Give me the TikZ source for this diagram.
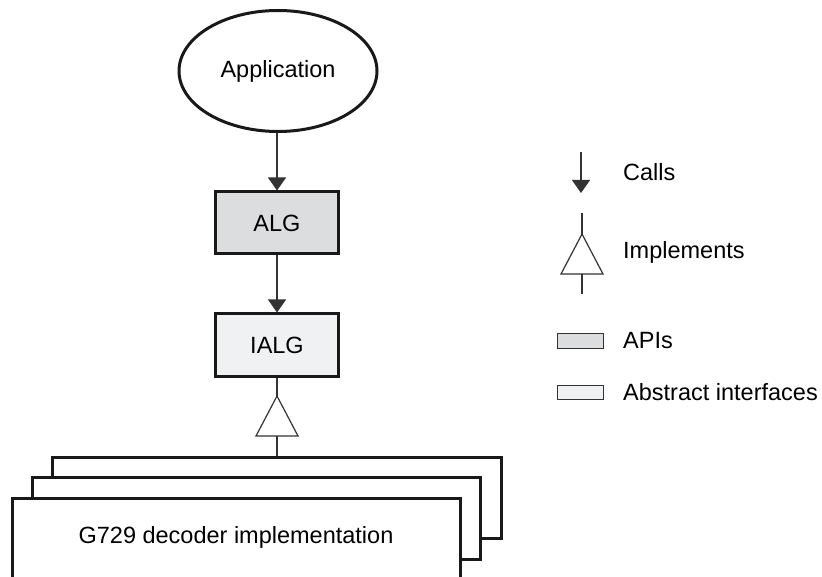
\documentclass[tikz,border=0pt]{standalone}
\usepackage{fontspec}
\setmainfont{Liberation Sans}
\usetikzlibrary{arrows.meta,shapes.geometric,positioning}

\definecolor{apigray}{RGB}{220,221,223}
\definecolor{ifacegray}{RGB}{240,241,243}

\tikzset{
  thickline/.style={line width=3pt, draw=black!90},
  thinline/.style={line width=1.2pt, draw=black!80},
  callarrow/.style={thinline, -{Triangle[width=18pt,length=13pt]}},
  modbox/.style={thickline, minimum width=123pt, minimum height=62pt, inner sep=0pt},
  legtext/.style={anchor=west, inner sep=0pt},
  legbox/.style={draw=black!80, line width=1pt, minimum width=46pt, minimum height=14pt, inner sep=0pt}
}

\begin{document}
\begin{tikzpicture}[x=1pt, y=-1pt, font=\fontsize{23.5}{28}\selectfont]
  \useasboundingbox (0,0) rectangle (822,577);
  \clip (0,0) rectangle (822,577);

  % main chain
  \node (app) [ellipse, thickline, minimum width=198pt, minimum height=121pt, inner sep=0pt] at (278,71) {Application};
  \node (alg) [modbox, fill=apigray] at (277,223) {ALG};
  \node (ialg) [modbox, fill=ifacegray] at (277,345) {IALG};
  \draw [callarrow] (app.south -| alg.north) -- (alg.north);
  \draw [callarrow] (alg.south) -- (ialg.north);

  % implements triangle
  \coordinate (tri apex) at (277,396);
  \coordinate (tri left) at (256,436);
  \coordinate (tri right) at (298,436);
  \coordinate (tri base) at (277,436);
  \coordinate (stack top) at (277,457);
  \draw [thinline] (ialg.south) -- (tri apex);
  \draw [thinline, fill=white] (tri apex) -- (tri left) -- (tri right) -- cycle;
  \draw [thinline] (tri base) -- (stack top);

  % stacked implementations
  \draw [thickline] (52,477) |- (501,457) |- (480,538);
  \draw [thickline] (32,498) |- (480,477) |- (460,559);
  \draw [thickline, fill=white] (12,600) |- (460,498) -- (460,600);
  \node (impl) at (236,537) {G729 decoder implementation};

  % legend
  \coordinate (calls top) at (581,152);
  \coordinate (calls tip) at (581,193);
  \draw [callarrow] (calls top) -- (calls tip);
  \node (calls) [legtext] at (623,172) {Calls};

  \coordinate (leg apex) at (582,234);
  \coordinate (leg left) at (561,274);
  \coordinate (leg right) at (603,274);
  \draw [thinline] (582,213) -- (leg apex);
  \draw [thinline, fill=white] (leg apex) -- (leg left) -- (leg right) -- cycle;
  \draw [thinline] (582,274) -- (582,294);
  \node (impls) [legtext] at (623,252) {Implements};

  \node (apibox) [legbox, fill=apigray] at (580,341) {};
  \node (apis) [legtext] at (623,341) {APIs};
  \node (ifacebox) [legbox, fill=ifacegray] at (580,392) {};
  \node (ifaces) [legtext] at (623,392) {Abstract interfaces};
\end{tikzpicture}
\end{document}
